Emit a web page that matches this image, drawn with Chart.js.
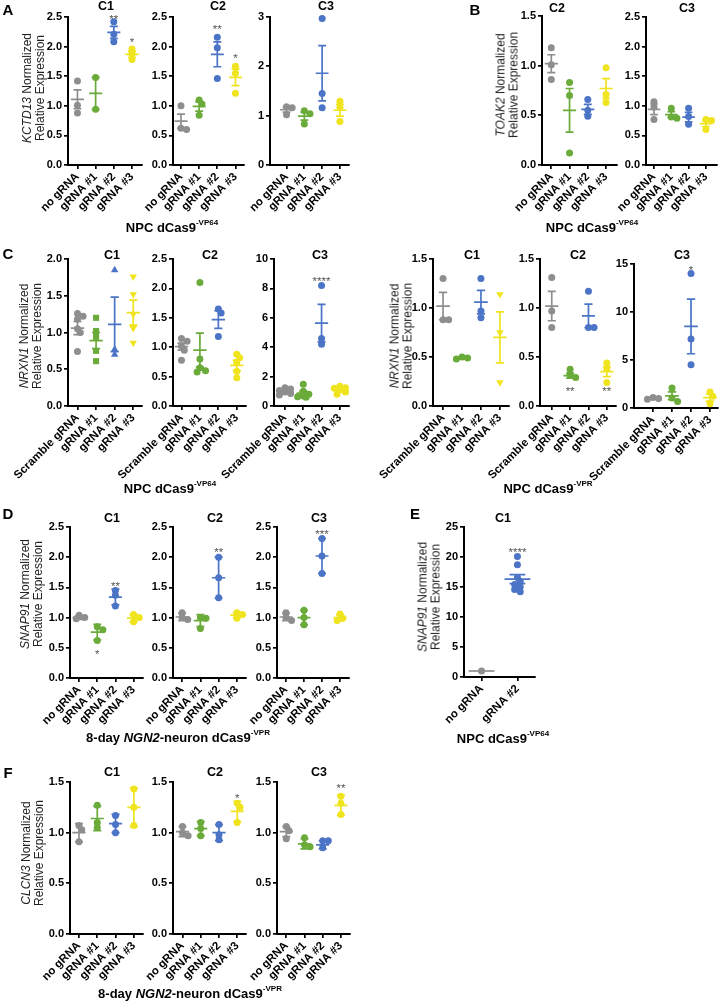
<!DOCTYPE html>
<html><head><meta charset="utf-8">
<script src="https://cdn.jsdelivr.net/npm/chart.js@4.4.1/dist/chart.umd.min.js"></script>
<style>
body{margin:0;background:#fff;}
#fig{position:relative;width:719px;height:1002px;overflow:hidden;font-family:"Liberation Sans",Arial,sans-serif;color:#000;}
canvas{position:absolute;}
.t{position:absolute;white-space:nowrap;transform:translate(-50%,-50%);}
.lab{font-weight:bold;font-size:15px;}
.ttl{font-weight:bold;font-size:12.5px;}
.yt{font-size:12px;line-height:12.5px;text-align:center;color:#222;transform:translate(-50%,-50%) rotate(-90deg);}
.xt{font-weight:bold;font-size:13px;}
.xt sup{font-size:8px;position:relative;top:-1px;}
</style></head>
<body><div id="fig"></div>
<script>
// ---------- categories ----------
const catsNo  = ['no gRNA','gRNA #1','gRNA #2','gRNA #3'];
const catsScr = ['Scramble gRNA','gRNA #1','gRNA #2','gRNA #3'];
const catsE   = ['no gRNA','gRNA #2'];

// ---------- Panel A : KCTD13, NPC dCas9-VP64 ----------
const A1_vals = [[1.42,1.01,0.88],[1.48,0.94],[2.42,2.21,2.08],[1.96,1.88,1.78]];
const A1_mean = [1.11,1.21,2.24,1.87];
const A1_err  = [0.16,0.27,0.10,0.05];
const A1_sig  = ['','','**','*'];
const A1_sigY = [0,0,2.51,2.12];

const A2_vals = [[1.00,0.62,0.60],[1.10,1.03,0.84],[2.16,1.98,1.46],[1.67,1.55,1.21]];
const A2_mean = [0.74,0.99,1.87,1.48];
const A2_err  = [0.12,0.08,0.21,0.14];
const A2_sig  = ['','','**','*'];
const A2_sigY = [0,0,2.35,1.85];

const A3_vals = [[1.18,1.16,1.02],[1.10,1.04,0.83],[2.97,1.45,1.16],[1.29,1.17,0.88]];
const A3_mean = [1.12,0.99,1.86,1.11];
const A3_err  = [0.05,0.08,0.56,0.12];

// ---------- Panel B : TOAK2, NPC dCas9-VP64 ----------
const B2_vals = [[1.18,1.01,0.86],[0.83,0.70,0.12],[0.66,0.55,0.49],[0.98,0.71,0.63]];
const B2_mean = [1.02,0.55,0.56,0.77];
const B2_err  = [0.09,0.22,0.05,0.10];

const B3_vals = [[1.07,0.98,0.77],[0.96,0.81,0.79],[0.96,0.82,0.69],[0.77,0.75,0.60]];
const B3_mean = [0.94,0.85,0.81,0.70];
const B3_err  = [0.09,0.05,0.08,0.05];

// ---------- Panel C : NRXN1, NPC dCas9-VP64 (left) ----------
const CL1_vals = [[1.26,1.22,1.18,1.05,1.00,0.74],[1.20,1.02,0.94,0.75,0.61],[1.85,0.77,0.70],[1.76,1.52,1.25,1.06,0.86]];
const CL1_mean = [1.06,0.89,1.11,1.27];
const CL1_err  = [0.09,0.11,0.37,0.17];

const CL2_vals = [[1.15,1.10,1.02,0.95,0.78],[2.10,0.80,0.65,0.60,0.58],[1.65,1.58,1.18],[0.88,0.82,0.74,0.59,0.48]];
const CL2_mean = [1.01,0.95,1.47,0.69];
const CL2_err  = [0.06,0.29,0.15,0.09];

const CL3_vals = [[1.25,1.15,1.05,0.95,0.85,0.75],[1.48,1.00,0.80,0.68,0.63,0.60],[8.2,4.6,4.2],[1.35,1.25,1.20,1.10,0.95,0.80]];
const CL3_mean = [1.00,0.87,5.64,1.11];
const CL3_err  = [0.08,0.14,1.28,0.09];
const CL3_sig  = ['','','****',''];
const CL3_sigY = [0,0,8.7,0];

// ---------- Panel C : NRXN1, NPC dCas9-VPR (right) ----------
const CR1_vals = [[1.30,0.88,0.88],[0.50,0.49,0.48],[1.30,0.97,0.90],[1.14,0.75,0.24]];
const CR1_mean = [1.02,0.49,1.06,0.70];
const CR1_err  = [0.14,0.01,0.12,0.26];

const CR2_vals = [[1.31,0.97,0.80],[0.375,0.32,0.29],[1.17,0.80,0.80],[0.44,0.38,0.24]];
const CR2_mean = [1.02,0.31,0.92,0.35];
const CR2_err  = [0.15,0.025,0.12,0.05];
const CR2_sig  = ['','**','','**'];
const CR2_sigY = [0,0.18,0,0.18];

const CR3_vals = [[1.1,1.0,0.9],[2.08,1.04,0.69],[14.0,7.2,4.5],[1.67,1.22,0.45]];
const CR3_mean = [1.00,1.27,8.5,1.08];
const CR3_err  = [0.06,0.41,2.85,0.36];
const CR3_sig  = ['','','*',''];
const CR3_sigY = [0,0,14.7,0];

// ---------- Panel D : SNAP91, 8-day NGN2-neuron dCas9-VPR ----------
const D1_vals = [[1.04,1.00,0.98],[0.85,0.80,0.62],[1.45,1.37,1.19],[1.05,1.00,0.93]];
const D1_mean = [1.00,0.76,1.34,0.99];
const D1_err  = [0.03,0.13,0.13,0.06];
const D1_sig  = ['','*','**',''];
const D1_sigY = [0,0.44,1.57,0];

const D2_vals = [[1.08,1.00,0.97],[1.00,0.99,0.82],[2.00,1.66,1.33],[1.08,1.05,0.99]];
const D2_mean = [1.01,0.95,1.66,1.04];
const D2_err  = [0.06,0.10,0.34,0.04];
const D2_sig  = ['','','**',''];
const D2_sigY = [0,0,2.14,0];

const D3_vals = [[1.08,1.00,0.95],[1.12,1.00,0.88],[2.31,2.02,1.73],[1.06,0.99,0.95]];
const D3_mean = [1.01,1.00,2.02,1.00];
const D3_err  = [0.06,0.12,0.29,0.05];
const D3_sig  = ['','','***',''];
const D3_sigY = [0,0,2.43,0];

// ---------- Panel E : SNAP91, NPC dCas9-VP64 ----------
const E_vals = [[1.0],[20.1,18.7,16.6,15.9,15.4,15.0,14.6,14.2]];
const E_mean = [1.0,16.3];
const E_err  = [0,0.75];
const E_sig  = ['','****'];
const E_sigY = [0,21.3];

// ---------- Panel F : CLCN3, 8-day NGN2-neuron dCas9-VPR ----------
const F1_vals = [[1.07,1.03,0.91],[1.27,1.10,1.05],[1.17,1.08,1.00],[1.43,1.25,1.07]];
const F1_mean = [1.00,1.14,1.09,1.25];
const F1_err  = [0.09,0.12,0.09,0.19];

const F2_vals = [[1.06,1.00,0.97],[1.10,1.04,0.97],[1.08,0.98,0.93],[1.29,1.25,1.10]];
const F2_mean = [1.01,1.04,1.00,1.21];
const F2_err  = [0.05,0.07,0.08,0.10];
const F2_sig  = ['','','','*'];
const F2_sigY = [0,0,0,1.37];

const F3_vals = [[1.06,1.02,0.94],[0.95,0.88,0.86],[0.92,0.92,0.85],[1.36,1.29,1.18]];
const F3_mean = [1.01,0.89,0.88,1.27];
const F3_err  = [0.05,0.05,0.04,0.10];
const F3_sig  = ['','','','**'];
const F3_sigY = [0,0,0,1.47];

// ---------- styles ----------
const GRAY='#8e8e8e', GREEN='#6aab3a', BLUE='#4b74c6', YELLOW='#efe41e';
const COLS4 = [GRAY,GREEN,BLUE,YELLOW];
const FONT = '"Liberation Sans", Arial, sans-serif';
const fig = document.getElementById('fig');

function swarm(vals, pxY, pxX){
  const idx = vals.map((v,i)=>i).sort((a,b)=>vals[b]-vals[a]);
  const placed=[], off=new Array(vals.length).fill(0);
  const cands=[0,1,-1,2,-2], step=2.8, D=4.5;
  idx.forEach(i=>{
    const yo = vals[i]*pxY;
    let best=0, bestD=-1;
    for(const c of cands){
      const xo=c*step;
      const md = placed.length? Math.min(...placed.map(p=>Math.hypot(p.x-xo,p.y-yo))) : 1e9;
      if(md>=D){best=xo;bestD=md;break;}
      if(md>bestD){bestD=md;best=xo;}
    }
    placed.push({x:best,y:yo}); off[i]=best/pxX;
  });
  return off;
}

function panel(o){
  const L=48, WY=28, T=12, R=8, HX=85;
  const plotW=o.right-o.axisX, plotH=o.bottom-o.top;
  const cw=Math.round(L+WY+plotW+R), ch=Math.round(T+plotH+HX);
  const cv=document.createElement('canvas');
  cv.width=cw; cv.height=ch;
  cv.style.left=(o.axisX-L-WY)+'px'; cv.style.top=(o.top-T)+'px';
  cv.style.width=cw+'px'; cv.style.height=ch+'px';
  fig.appendChild(cv);
  const cols=o.cols||COLS4;
  const pxY=plotH/o.ymax, pxX=plotW/(o.xmax-o.xmin);
  const shapes=o.shapes||o.vals.map(()=>'circle');
  const datasets=o.vals.map((g,i)=>{
    const off=swarm(g,pxY,pxX);
    const sh=shapes[i];
    return {
      data:g.map((v,j)=>({x:i+off[j],y:v})),
      backgroundColor:cols[i], borderColor:cols[i], borderWidth:0,
      pointStyle: sh==='invtri'?'triangle':sh,
      rotation: sh==='invtri'?180:0,
      pointRadius: sh==='circle'?3.5:4.3,
      clip:false
    };
  });
  const plug={
    id:'summ',
    afterDatasetsDraw(chart){
      const ctx=chart.ctx, xs=chart.scales.x, ys=chart.scales.y;
      o.mean.forEach((m,i)=>{
        const e=o.err[i];
        const xc=xs.getPixelForValue(i), xl=xs.getPixelForValue(i-0.36), xr=xs.getPixelForValue(i+0.36);
        const cl=xs.getPixelForValue(i-0.22), cr=xs.getPixelForValue(i+0.22);
        const ym=ys.getPixelForValue(m), yt=ys.getPixelForValue(m+e), yb=ys.getPixelForValue(m-e);
        ctx.save(); ctx.strokeStyle=cols[i]; ctx.lineWidth=1.7; ctx.lineCap='butt';
        ctx.beginPath();
        ctx.moveTo(xl,ym); ctx.lineTo(xr,ym);
        if(e>0){
          ctx.moveTo(xc,yt); ctx.lineTo(xc,yb);
          ctx.moveTo(cl,yt); ctx.lineTo(cr,yt);
          ctx.moveTo(cl,yb); ctx.lineTo(cr,yb);
        }
        ctx.stroke(); ctx.restore();
      });
      if(o.sig){
        ctx.save(); ctx.fillStyle='#555'; const fs=11.5;
        ctx.font=fs+'px '+FONT; ctx.textAlign='center'; ctx.textBaseline='alphabetic';
        o.sig.forEach((s,i)=>{ if(!s) return;
          ctx.fillText(s, xs.getPixelForValue(i), ys.getPixelForValue(o.sigY[i])+fs*0.6);
        });
        ctx.restore();
      }
    }
  };
  new Chart(cv,{
    type:'scatter',
    data:{datasets},
    options:{
      responsive:false, animation:false, devicePixelRatio:1,
      layout:{padding:{left:L,top:T,right:R,bottom:0}},
      plugins:{legend:{display:false},tooltip:{enabled:false}},
      scales:{
        x:{type:'linear',min:o.xmin,max:o.xmax,
          afterBuildTicks:s=>{s.ticks=o.cats.map((c,i)=>({value:i}));},
          afterFit:s=>{s.height=HX; s.paddingLeft=0; s.paddingRight=0;},
          ticks:{autoSkip:false,minRotation:45,maxRotation:45,padding:1,color:'#000',
            font:{family:FONT,size:11.5,weight:'bold'},
            callback:(v)=>o.cats[Math.round(v)]},
          grid:{drawOnChartArea:false,drawTicks:true,tickLength:4,color:'#000',lineWidth:1.7},
          border:{display:true,color:'#000',width:2}
        },
        y:{min:0,max:o.ymax,
          afterFit:s=>{s.width=WY; s.paddingTop=0; s.paddingBottom=0;},
          ticks:{stepSize:o.step,padding:2,color:'#000',
            font:{family:FONT,size:11,weight:'bold'},
            callback:(v)=>Number(v).toFixed(o.dec)},
          grid:{drawOnChartArea:false,drawTicks:true,tickLength:4,color:'#000',lineWidth:1.7},
          border:{display:true,color:'#000',width:2}
        }
      }
    },
    plugins:[plug]
  });
}

function txt(cls,html,x,y){
  const d=document.createElement('div'); d.className='t '+cls; d.innerHTML=html;
  d.style.left=x+'px'; d.style.top=y+'px'; fig.appendChild(d);
}

// ---------- build panels ----------
panel({axisX:68,right:142,top:16.7,bottom:165,xmin:-0.52,xmax:3.55,ymax:2.5,step:0.5,dec:1,cats:catsNo,vals:A1_vals,mean:A1_mean,err:A1_err,sig:A1_sig,sigY:A1_sigY});
panel({axisX:173,right:244,top:16.7,bottom:165,xmin:-0.44,xmax:3.47,ymax:2.5,step:0.5,dec:1,cats:catsNo,vals:A2_vals,mean:A2_mean,err:A2_err,sig:A2_sig,sigY:A2_sigY});
panel({axisX:269.5,right:348,top:16.7,bottom:165,xmin:-0.93,xmax:3.51,ymax:3,step:1,dec:0,cats:catsNo,vals:A3_vals,mean:A3_mean,err:A3_err});
panel({axisX:541.7,right:617,top:16.3,bottom:165.5,xmin:-0.51,xmax:3.6,ymax:1.5,step:0.5,dec:1,cats:catsNo,vals:B2_vals,mean:B2_mean,err:B2_err});
panel({axisX:646,right:717,top:16.7,bottom:165,xmin:-0.46,xmax:3.64,ymax:2.5,step:0.5,dec:1,cats:catsNo,vals:B3_vals,mean:B3_mean,err:B3_err});

panel({axisX:68.3,right:142,top:259,bottom:406,xmin:-0.51,xmax:3.47,ymax:2,step:0.5,dec:1,cats:catsScr,vals:CL1_vals,mean:CL1_mean,err:CL1_err,shapes:['circle','rect','triangle','invtri']});
panel({axisX:173.3,right:246,top:259,bottom:406,xmin:-0.46,xmax:3.5,ymax:2.5,step:0.5,dec:1,cats:catsScr,vals:CL2_vals,mean:CL2_mean,err:CL2_err});
panel({axisX:274,right:349,top:259,bottom:406,xmin:-0.6,xmax:3.5,ymax:10,step:2,dec:0,cats:catsScr,vals:CL3_vals,mean:CL3_mean,err:CL3_err,sig:CL3_sig,sigY:CL3_sigY});
panel({axisX:433.3,right:509,top:259,bottom:406,xmin:-0.53,xmax:3.48,ymax:1.5,step:0.5,dec:1,cats:catsScr,vals:CR1_vals,mean:CR1_mean,err:CR1_err,shapes:['circle','circle','circle','invtri']});
panel({axisX:540,right:616,top:259,bottom:406,xmin:-0.64,xmax:3.5,ymax:1.5,step:0.5,dec:1,cats:catsScr,vals:CR2_vals,mean:CR2_mean,err:CR2_err,sig:CR2_sig,sigY:CR2_sigY});
panel({axisX:634,right:718,top:263.5,bottom:407.5,xmin:-1.0,xmax:3.42,ymax:15,step:5,dec:0,cats:catsScr,vals:CR3_vals,mean:CR3_mean,err:CR3_err,sig:CR3_sig,sigY:CR3_sigY});

panel({axisX:70,right:142.5,top:527.3,bottom:678.3,xmin:-0.5,xmax:3.52,ymax:2.5,step:0.5,dec:1,cats:catsNo,vals:D1_vals,mean:D1_mean,err:D1_err,sig:D1_sig,sigY:D1_sigY});
panel({axisX:173.3,right:246,top:527.3,bottom:678.3,xmin:-0.5,xmax:3.5,ymax:2.5,step:0.5,dec:1,cats:catsNo,vals:D2_vals,mean:D2_mean,err:D2_err,sig:D2_sig,sigY:D2_sigY});
panel({axisX:276.7,right:349,top:527.3,bottom:678.3,xmin:-0.5,xmax:3.5,ymax:2.5,step:0.5,dec:1,cats:catsNo,vals:D3_vals,mean:D3_mean,err:D3_err,sig:D3_sig,sigY:D3_sigY});
panel({axisX:464.3,right:535,top:526.7,bottom:676.7,xmin:-0.49,xmax:1.49,ymax:25,step:5,dec:0,cats:catsE,vals:E_vals,mean:E_mean,err:E_err,sig:E_sig,sigY:E_sigY,cols:[GRAY,BLUE]});

panel({axisX:70,right:143,top:781.7,bottom:933.3,xmin:-0.49,xmax:3.5,ymax:1.5,step:0.5,dec:1,cats:catsNo,vals:F1_vals,mean:F1_mean,err:F1_err});
panel({axisX:173.3,right:246,top:781.7,bottom:933.3,xmin:-0.52,xmax:3.48,ymax:1.5,step:0.5,dec:1,cats:catsNo,vals:F2_vals,mean:F2_mean,err:F2_err,sig:F2_sig,sigY:F2_sigY});
panel({axisX:276.7,right:350,top:781.7,bottom:933.3,xmin:-0.51,xmax:3.5,ymax:1.5,step:0.5,dec:1,cats:catsNo,vals:F3_vals,mean:F3_mean,err:F3_err,sig:F3_sig,sigY:F3_sigY});

// ---------- texts ----------
txt('lab','A',8,9); txt('lab','B',475,9); txt('lab','C',8,253); txt('lab','D',8,513); txt('lab','E',415,513); txt('lab','F',8,772);

[['C1',106,6],['C2',218,6],['C3',326,6],['C2',557,8],['C3',687,8],
 ['C1',112,255],['C2',210,255],['C3',320,255],['C1',472,255],['C2',578,255],['C3',682,255],
 ['C1',112,518],['C2',215,518],['C3',319,518],['C1',503,518],
 ['C1',112,772],['C2',215,772],['C3',319,772]].forEach(a=>txt('ttl',a[0],a[1],a[2]));

txt('yt','<i>KCTD13</i> Normalized<br>Relative Expression',32.5,88);
txt('yt','<i>TOAK2</i> Normalized<br>Relative Expression',506.5,85);
txt('yt','<i>NRXN1</i> Normalized<br>Relative Expression',30,336);
txt('yt','<i>NRXN1</i> Normalized<br>Relative Expression',401,336);
txt('yt','<i>SNAP91</i> Normalized<br>Relative Expression',30.5,594);
txt('yt','<i>SNAP91</i> Normalized<br>Relative Expression',429,597);
txt('yt','<i>CLCN3</i> Normalized<br>Relative Expression',31.5,853);

txt('xt','NPC dCas9<sup>-VP64</sup>',172,227);
txt('xt','NPC dCas9<sup>-VP64</sup>',592,227);
txt('xt','NPC dCas9<sup>-VP64</sup>',170,488);
txt('xt','NPC dCas9<sup>-VPR</sup>',548,488);
txt('xt','8-day <i>NGN2</i>-neuron dCas9<sup>-VPR</sup>',178,737);
txt('xt','NPC dCas9<sup>-VP64</sup>',503,738);
txt('xt','8-day <i>NGN2</i>-neuron dCas9<sup>-VPR</sup>',190,993);
</script>
</body></html>
